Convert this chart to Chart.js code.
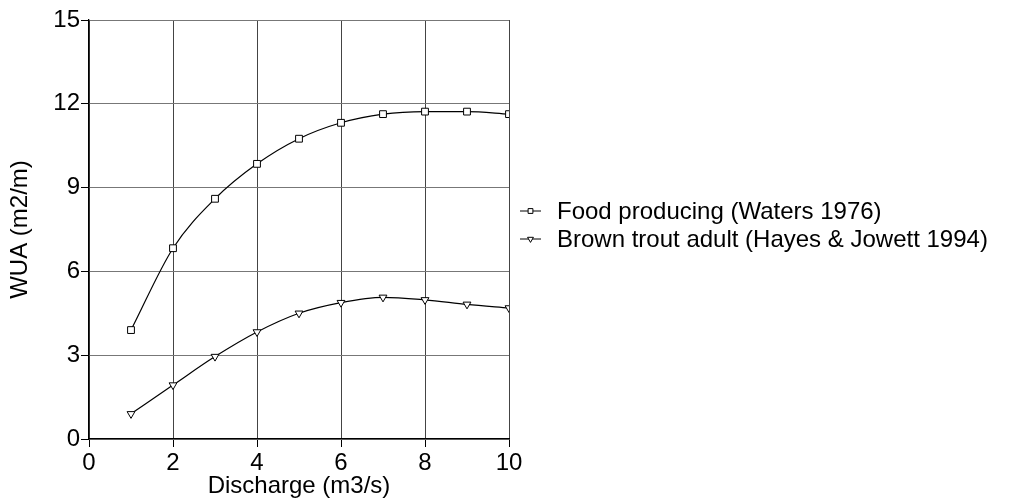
<!DOCTYPE html>
<html>
<head>
<meta charset="utf-8">
<script src="https://cdn.jsdelivr.net/npm/chart.js@4.4.1/dist/chart.umd.min.js"></script>
<style>
  html, body { margin: 0; padding: 0; background: #fff; }
  #wrap { width: 1030px; height: 503px; }
</style>
</head>
<body>
<div id="wrap"><canvas id="wua"></canvas></div>
<script>
// discharge in m3/s, WUA in m2/m
const discharge = [1, 2, 3, 4, 5, 6, 7, 8, 9, 10]
const foodProducing = [3.9, 6.83, 8.6, 9.85, 10.75, 11.32, 11.63, 11.72, 11.72, 11.63]
const brownTroutAdult = [0.9, 1.93, 2.95, 3.83, 4.5, 4.88, 5.07, 4.98, 4.82, 4.69]

const seriesLabels = ['Food producing (Waters 1976)', 'Brown trout adult (Hayes & Jowett 1994)']
const xTicks = [0, 2, 4, 6, 8, 10]
const yTicks = [0, 3, 6, 9, 12, 15]

const FONT = "'Liberation Sans', Arial, Helvetica, sans-serif"

function points(ys) {
  return discharge.map((x, i) => ({x: x, y: ys[i]}))
}

// legend at the right: short line with the marker, then the label
const sideLegend = {
  id: 'sideLegend',
  afterDraw(chart) {
    const ctx = chart.ctx
    ctx.save()
    ctx.font = '24px ' + FONT
    ctx.textBaseline = 'middle'
    chart.data.datasets.forEach((ds, i) => {
      const y = 211 + i * 28
      ctx.strokeStyle = '#000'
      ctx.lineWidth = 1
      ctx.beginPath()
      ctx.moveTo(520, y)
      ctx.lineTo(541, y)
      ctx.stroke()
      ctx.fillStyle = '#fff'
      Chart.helpers.drawPoint(ctx, {
        pointStyle: ds.pointStyle,
        radius: 3.4,
        rotation: ds.pointRotation || 0,
        borderWidth: 1
      }, 530.5, y)
      ctx.fillStyle = '#000'
      ctx.fillText(ds.label, 557, y + 1)
    })
    ctx.restore()
  }
}

new Chart(document.getElementById('wua').getContext('2d'), {
  type: 'line',
  data: {
    datasets: [{
      label: seriesLabels[0],
      data: points(foodProducing),
      borderColor: '#000',
      borderWidth: 1.2,
      backgroundColor: '#fff',
      pointStyle: 'rect',
      pointRadius: 4.8,
      pointBorderWidth: 1,
      pointBorderColor: '#000',
      pointBackgroundColor: '#fff',
      cubicInterpolationMode: 'monotone'
    }, {
      label: seriesLabels[1],
      data: points(brownTroutAdult),
      borderColor: '#000',
      borderWidth: 1.2,
      backgroundColor: '#fff',
      pointStyle: 'triangle',
      pointRotation: 180,
      pointRadius: 4.5,
      pointBorderWidth: 1,
      pointBorderColor: '#000',
      pointBackgroundColor: '#fff',
      cubicInterpolationMode: 'monotone'
    }]
  },
  options: {
    responsive: true,
    maintainAspectRatio: false,
    animation: false,
    layout: {padding: {top: 20, right: 521, left: 0, bottom: 0}},
    plugins: {
      legend: {display: false},
      tooltip: {enabled: false}
    },
    scales: {
      x: {
        type: 'linear',
        min: 0,
        max: 10,
        afterFit: (scale) => { scale.height = 64 },
        afterBuildTicks: (scale) => { scale.ticks = xTicks.map(v => ({value: v})) },
        grid: {color: '#444', lineWidth: 1, tickLength: 8, tickColor: '#000'},
        border: {display: true, color: '#000', width: 1.3},
        ticks: {color: '#000', padding: 2, maxRotation: 0, font: {family: FONT, size: 24}},
        title: {
          display: true,
          text: 'Discharge (m3/s)',
          color: '#000',
          padding: {top: 0, bottom: 2},
          font: {family: FONT, size: 24}
        }
      },
      y: {
        type: 'linear',
        min: 0,
        max: 15,
        afterFit: (scale) => { scale.width = 89 },
        afterBuildTicks: (scale) => { scale.ticks = yTicks.map(v => ({value: v})) },
        grid: {color: '#777', lineWidth: 1, tickLength: 8, tickColor: '#000'},
        border: {display: true, color: '#000', width: 1.3},
        ticks: {color: '#000', padding: 1, font: {family: FONT, size: 24}},
        title: {
          display: true,
          text: 'WUA (m2/m)',
          color: '#000',
          padding: {top: 6, bottom: 0},
          font: {family: FONT, size: 24}
        }
      }
    }
  },
  plugins: [sideLegend]
})
</script>
</body>
</html>
